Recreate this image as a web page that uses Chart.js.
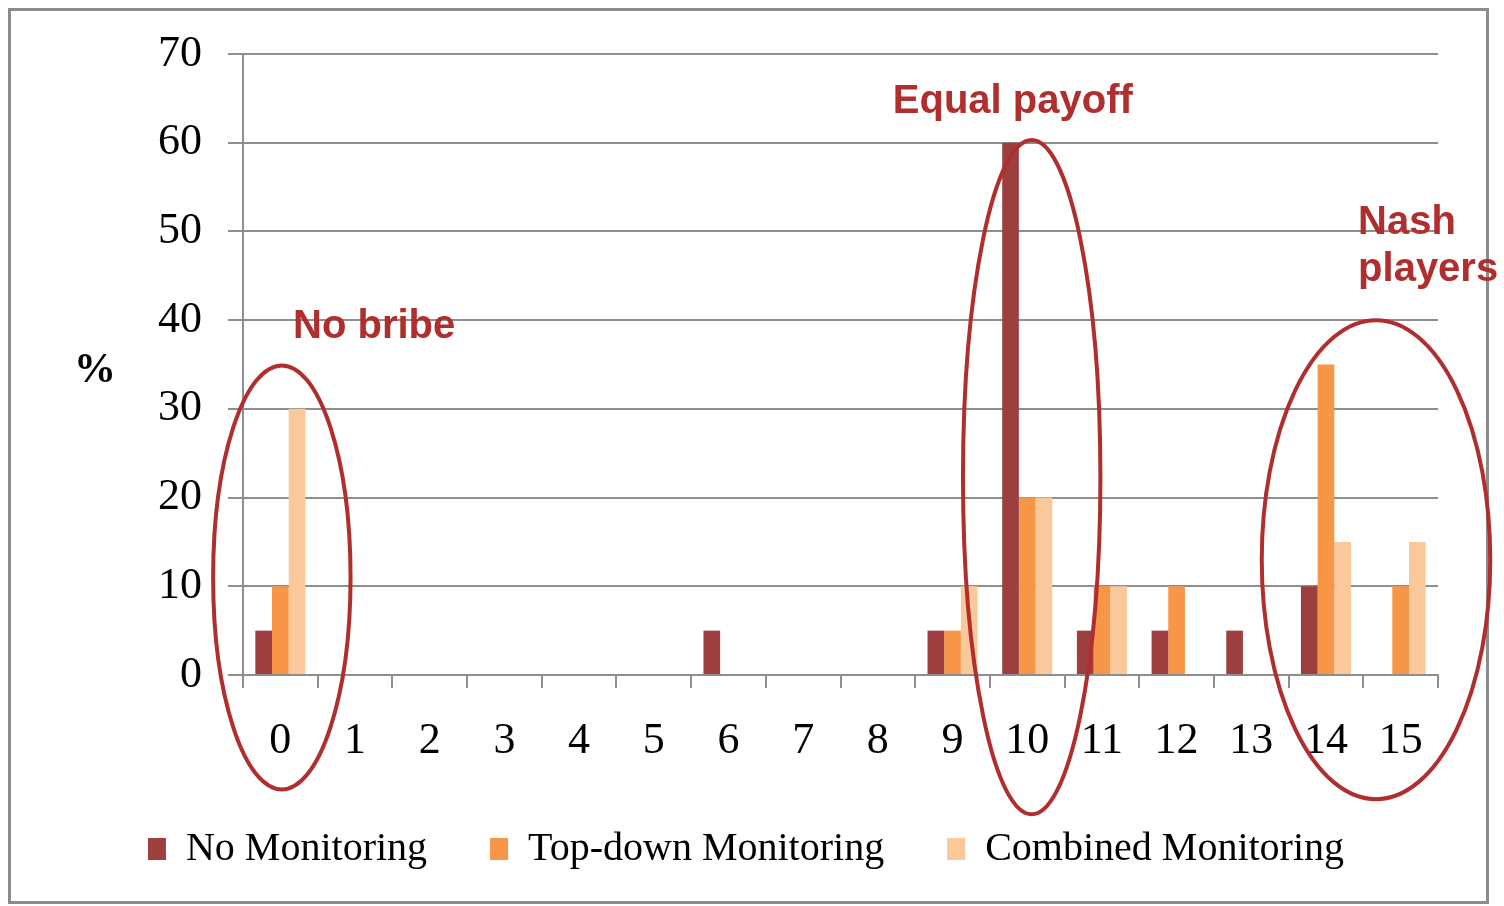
<!DOCTYPE html>
<html>
<head>
<meta charset="utf-8">
<script src="https://cdn.jsdelivr.net/npm/chart.js@4.4.1/dist/chart.umd.min.js"></script>
<style>
  html, body { margin: 0; padding: 0; background: #fff; }
  #frame { position: absolute; left: 8px; top: 8px; width: 1475px; height: 890px; border: 3px solid #8c8c8c; }
  #wrap { position: absolute; left: 0; top: 0; width: 1504px; height: 906px; }
</style>
</head>
<body>
<div id="frame"></div>
<div id="wrap"><canvas id="chart" width="1504" height="906"></canvas></div>
<script>
const categories = ["0","1","2","3","4","5","6","7","8","9","10","11","12","13","14","15"];
const noMonitoring     = [5, 0, 0, 0, 0, 0, 5, 0, 0, 5, 60, 5, 5, 5, 10, 0];
const topDownMonitoring = [10, 0, 0, 0, 0, 0, 0, 0, 0, 5, 20, 10, 10, 0, 35, 10];
const combinedMonitoring = [30, 0, 0, 0, 0, 0, 0, 0, 0, 10, 20, 10, 0, 0, 15, 15];
const yTicks = [0, 10, 20, 30, 40, 50, 60, 70];

// highlight ovals and notes, in category / value units
const ovals = [
  { cx: 0.02, cy: 11, rx: 0.92, ry: 23.9 },
  { cx: 10.06, cy: 22.3, rx: 0.92, ry: 38 },
  { cx: 14.67, cy: 13, rx: 1.53, ry: 27 }
];
const notes = [
  { text: "No bribe", x: 0.17, y: 39.2 },
  { text: "Equal payoff", x: 8.2, y: 64.6 },
  { text: "Nash", x: 14.43, y: 51 },
  { text: "players", x: 14.43, y: 45.6 }
];

const RED = "#b02e2e";
const GRID = "#8e8e8e";

function catX(scale, v) {
  return scale.left + (v + 0.5) * scale.width / categories.length;
}

const notesPlugin = {
  id: "notes",
  afterDraw(chart) {
    const { ctx, scales: { x, y } } = chart;
    ctx.save();
    // percent sign left of the y ticks
    ctx.fillStyle = "#000";
    ctx.font = "bold 42px 'Liberation Serif'";
    ctx.textAlign = "center";
    ctx.textBaseline = "middle";
    ctx.fillText("%", x.left - 148, y.getPixelForValue(34.2));

    ctx.strokeStyle = RED;
    ctx.lineWidth = 4;
    ovals.forEach(o => {
      const px = catX(x, o.cx);
      const py = y.getPixelForValue(o.cy);
      const rx = o.rx * x.width / categories.length;
      const ry = Math.abs(y.getPixelForValue(0) - y.getPixelForValue(o.ry));
      ctx.beginPath();
      ctx.ellipse(px, py, rx, ry, 0, 0, Math.PI * 2);
      ctx.stroke();
    });

    ctx.fillStyle = RED;
    ctx.font = "bold 40px 'Liberation Sans'";
    ctx.textAlign = "left";
    notes.forEach(n => ctx.fillText(n.text, catX(x, n.x), y.getPixelForValue(n.y)));
    ctx.restore();
  }
};

new Chart(document.getElementById("chart").getContext("2d"), {
  type: "bar",
  data: {
    labels: categories,
    datasets: [
      { label: "No Monitoring", data: noMonitoring, backgroundColor: "#9e3f3f" },
      { label: "Top-down Monitoring", data: topDownMonitoring, backgroundColor: "#f79646" },
      { label: "Combined Monitoring", data: combinedMonitoring, backgroundColor: "#fac89a" }
    ]
  },
  options: {
    responsive: false,
    animation: false,
    datasets: { bar: { barPercentage: 1, categoryPercentage: 0.67 } },
    layout: { padding: { left: 54, right: 66, top: 54, bottom: 27 } },
    plugins: {
      tooltip: { enabled: false },
      legend: {
        position: "bottom",
        labels: {
          boxWidth: 18, boxHeight: 22, padding: 63, color: "#000",
          font: { family: "'Liberation Serif'", size: 40 }
        }
      }
    },
    scales: {
      x: {
        grid: { offset: true, drawOnChartArea: false, color: GRID, lineWidth: 2, tickLength: 13 },
        border: { display: true, color: GRID, width: 2 },
        ticks: { color: "#000", padding: 27, maxRotation: 0, font: { family: "'Liberation Serif'", size: 44 } },
        afterFit(scale) { scale.height = 91; }
      },
      y: {
        min: 0, max: 70,
        afterBuildTicks(scale) { scale.ticks = yTicks.map(v => ({ value: v })); },
        grid: { color: GRID, lineWidth: 2, tickLength: 15 },
        border: { display: true, color: GRID, width: 2 },
        ticks: { color: "#000", padding: 26, font: { family: "'Liberation Serif'", size: 44 } },
        afterFit(scale) { scale.width = 189; }
      }
    }
  },
  plugins: [notesPlugin]
});
</script>
</body>
</html>
